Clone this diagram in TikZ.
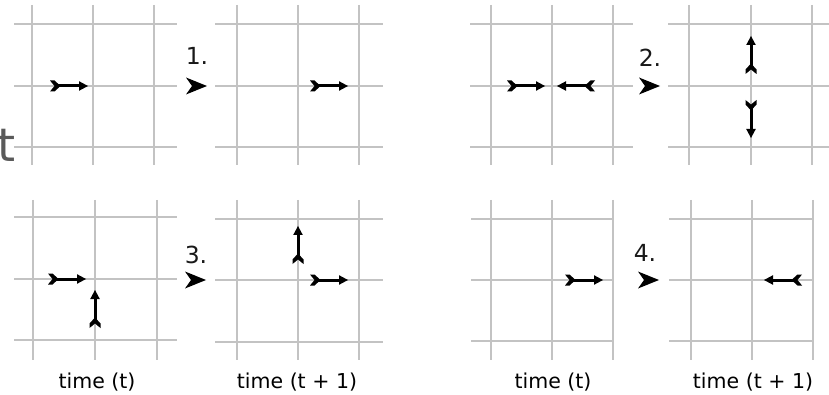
\documentclass[tikz,border=0pt]{standalone}
\usepackage{fontspec}
\setmainfont{DejaVu Sans}
\definecolor{gridgray}{RGB}{195,195,195}
\definecolor{wmgray}{RGB}{90,90,90}
\tikzset{
  gridln/.style={draw=gridgray,line width=1.8pt},
  particle/.pic={
    \fill[black] (0,-5.5) -- (4.5,-5.5) -- (10.5,0) -- (4.5,5.5) -- (0,5.5) -- (4.5,0) -- cycle;
    \draw[black,line width=3pt] (6,0) -- (31,0);
    \fill[black] (38,0) -- (29,-4.8) -- (29,4.8) -- cycle;
  },
  stepmark/.style={fill=black},
  numlabel/.style={font=\fontsize{23.5}{24}\selectfont,text=black!90,inner sep=0pt},
  timelabel/.style={font=\fontsize{20.5}{21}\selectfont,text=black,inner sep=0pt}
}
% #1 x1, #2 x2, #3 x3 (verticals), #4 y1,#5 y2,#6 y3 (horizontals), #7 hx-left, #8 hx-right, #9 vtop
\newcommand{\mygrid}[9]{%
  \foreach \vx in {#1,#2,#3} {\draw[gridln] (\vx,#9) -- (\vx,#9+160);}
  \foreach \hy in {#4,#5,#6} {\draw[gridln] (#7,\hy) -- (#8,\hy);}
}
\newcommand{\mystep}[3]{% name, tip x, y
  \fill[stepmark] (#2,#3) -- (#2-21,#3-8.5) -- (#2-15,#3) -- (#2-21,#3+8.5) -- cycle;
  \coordinate (#1) at (#2,#3);
}
\begin{document}
\begin{tikzpicture}[x=1pt,y=-1pt]
\useasboundingbox (0,0) rectangle (829,395);
\fill[white] (0,0) rectangle (829,395);
% watermark fragment
\begin{scope}
\clip (0,100) rectangle (14,175);
\node[anchor=west,inner sep=0pt,text=wmgray,font=\fontsize{46}{46}\selectfont] (wm) at (-3,146) {te};
\end{scope}
% grids
\mygrid{32}{93}{154}{24}{86}{147}{14}{177}{5}
\mygrid{237}{298}{359}{24}{86}{147}{215}{383}{5}
\mygrid{491}{552}{613}{24}{86}{147}{470}{633}{5}
\mygrid{689}{751}{812}{24}{86}{147}{668}{829}{5}
\mygrid{33}{95}{157}{217}{279}{340}{14}{177}{200}
\mygrid{237}{298}{359}{219}{280}{342}{215}{383}{200}
\mygrid{491}{552}{613}{219}{280}{341}{471}{613}{200}
\mygrid{691}{752}{813}{219}{280}{341}{669}{813}{200}
% particles (placed at tail; rotate: 0 right, 180 left, 90 up, -90 down)
\coordinate (a1t) at (50,86);
\coordinate (a2t) at (310,86);
\coordinate (b1t) at (507,86);
\coordinate (b1u) at (595,86);
\coordinate (b2t) at (751,74);
\coordinate (b2u) at (751,100);
\coordinate (c1t) at (48,279);
\coordinate (c1u) at (95,328);
\coordinate (c2t) at (298,264);
\coordinate (c2u) at (310,280);
\coordinate (d1t) at (565,280);
\coordinate (d2t) at (802,280);
\pic at (a1t) {particle};
\pic at (a2t) {particle};
\pic at (b1t) {particle};
\pic[rotate=180] at (b1u) {particle};
\pic[rotate=90] at (b2t) {particle};
\pic[rotate=-90] at (b2u) {particle};
\pic at (c1t) {particle};
\pic[rotate=90] at (c1u) {particle};
\pic[rotate=90] at (c2t) {particle};
\pic at (c2u) {particle};
\pic at (d1t) {particle};
\pic[rotate=180] at (d2t) {particle};
% step arrows
\mystep{s1}{207}{86}
\mystep{s2}{660}{86}
\mystep{s3}{206}{280}
\mystep{s4}{659}{280}
% labels
\node[numlabel] (n1) at (197,56) {1.};
\node[numlabel] (n2) at (650,58) {2.};
\node[numlabel] (n3) at (196,255) {3.};
\node[numlabel] (n4) at (645,253) {4.};
\node[timelabel] (t1) at (97,382) {time (t)};
\node[timelabel] (t2) at (297,382) {time (t + 1)};
\node[timelabel] (t3) at (553,382) {time (t)};
\node[timelabel] (t4) at (753,382) {time (t + 1)};
\end{tikzpicture}
\end{document}
